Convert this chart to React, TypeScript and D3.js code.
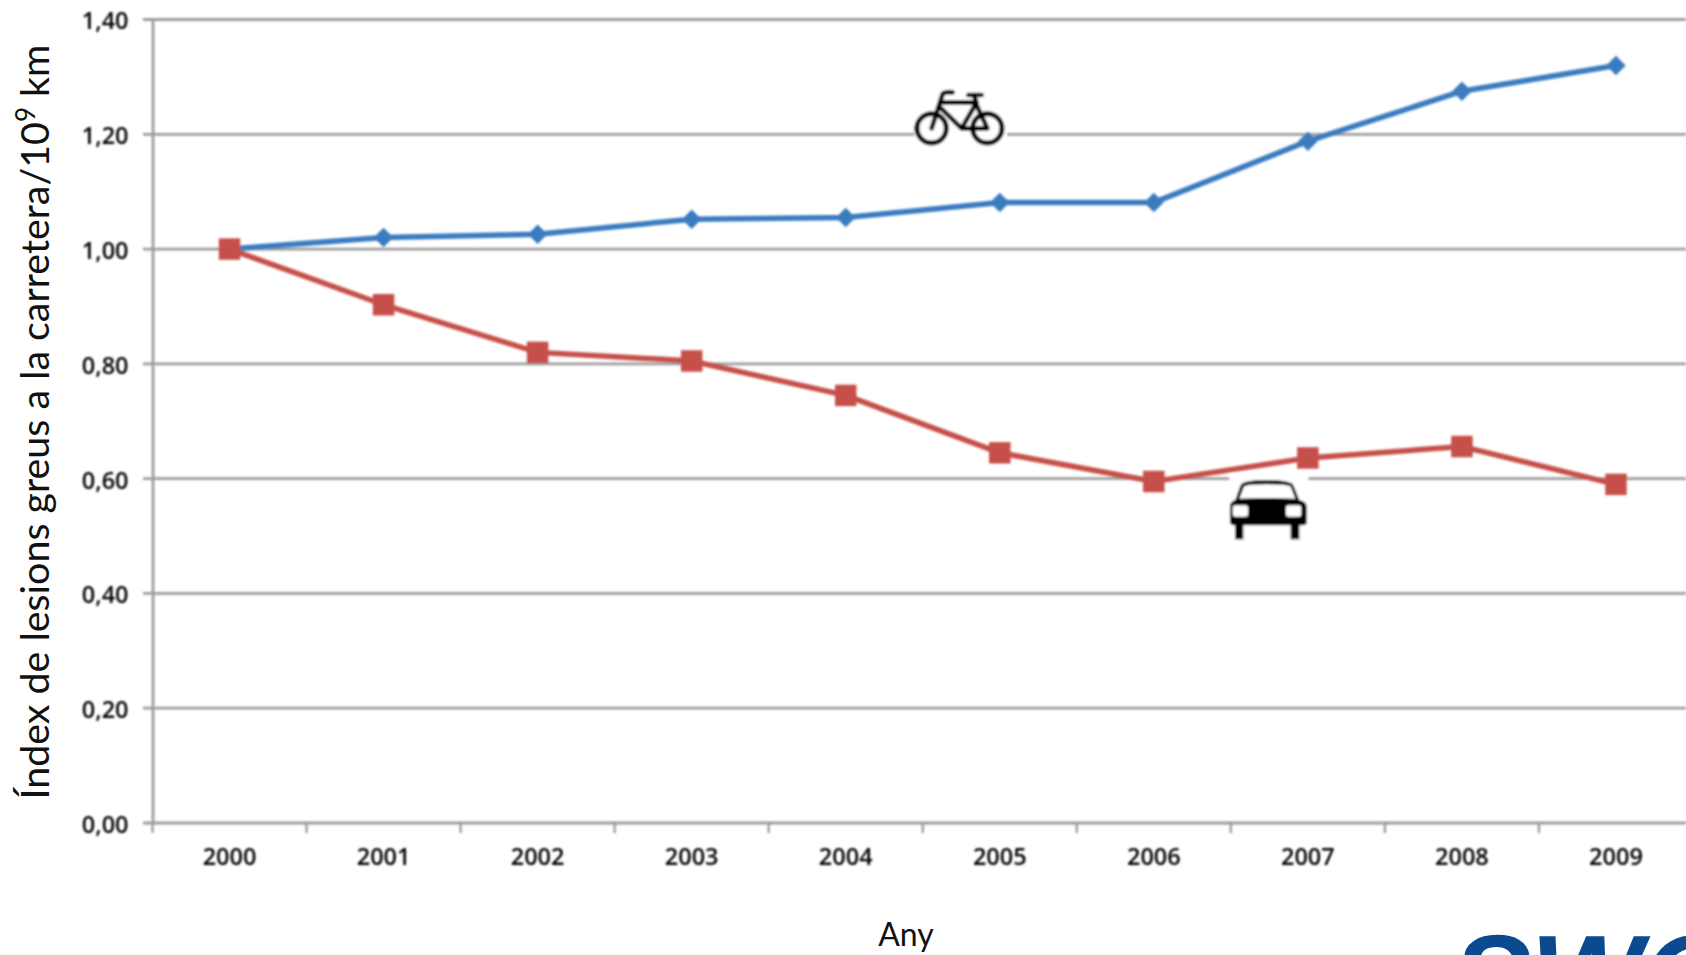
import * as d3 from "d3";
import { useEffect, useRef } from "react";

const years = ["2000", "2001", "2002", "2003", "2004", "2005", "2006", "2007", "2008", "2009"];
const bikeValues = [1.0, 1.02, 1.026, 1.052, 1.055, 1.081, 1.081, 1.188, 1.275, 1.32];
const carValues = [1.0, 0.903, 0.82, 0.805, 0.745, 0.645, 0.595, 0.636, 0.656, 0.59];
const yTicks = [0, 0.2, 0.4, 0.6, 0.8, 1.0, 1.2, 1.4];

const WIDTH = 1686;
const HEIGHT = 955;
const GRID = "#9c9c9c";
const BLUE = "#3a7cc0";
const RED = "#c6504a";
const FONT = "'Open Sans', sans-serif";
const TITLE_FONT = "Lato, sans-serif";

const x = d3.scaleBand().domain(years).range([152.5, 1693]);
const y = d3.scaleLinear().domain([0, 1.4]).range([823, 19.5]);
const cx = (d: string) => (x(d) ?? 0) + x.bandwidth() / 2;

function Bike() {
  // drawn in the 3x crop space of the icon
  return (
    <g transform="translate(850,60) scale(0.3333)" fill="none" stroke="#000" strokeLinecap="round" strokeLinejoin="round">
      <rect x="193" y="75" width="278" height="190" fill="#fff" stroke="none" />
      <circle cx="245" cy="205" r="44" strokeWidth="15" />
      <circle cx="412" cy="205" r="44" strokeWidth="15" />
      <path d="M245 205 L278 102 Q284 95 308 97" strokeWidth="14" />
      <path d="M272 127 L380 127 L335 205 L268 140" strokeWidth="14" />
      <path d="M335 205 L412 205 L375 125 M378 125 L372 105 M355 105 L395 105" strokeWidth="14" />
    </g>
  );
}

function Car() {
  return (
    <g transform="translate(1180,440) scale(0.3333)">
      <rect x="148" y="100" width="237" height="200" fill="#fff" />
      <path
        d="M150 200 Q150 185 166 180 L182 135 Q190 120 260 120 Q330 120 340 135 L358 180 Q380 185 380 200 L380 248 Q380 256 362 256 L358 256 L358 298 L332 298 L332 256 L190 256 L190 298 L165 298 L165 256 Q150 256 150 246 Z"
        fill="#000"
      />
      <path d="M178 176 L192 140 Q200 133 260 133 Q322 133 332 140 L346 176 Q260 172 178 176 Z" fill="#fff" />
      <rect x="158" y="196" width="46" height="34" rx="8" fill="#fff" />
      <rect x="318" y="196" width="46" height="34" rx="8" fill="#fff" />
    </g>
  );
}

export default function App() {
  const axesRef = useRef<SVGGElement>(null);
  const seriesRef = useRef<SVGGElement>(null);

  useEffect(() => {
    if (!axesRef.current) return;
    const g = d3.select(axesRef.current);
    g.selectAll("*").remove();

    // gridlines
    g.append("g")
      .selectAll("line")
      .data(yTicks)
      .join("line")
      .attr("x1", 143)
      .attr("x2", WIDTH)
      .attr("y1", (d) => y(d))
      .attr("y2", (d) => y(d))
      .attr("stroke", GRID)
      .attr("stroke-width", 2.8);

    // y axis
    const yAxis = g
      .append("g")
      .attr("transform", "translate(152.5,0)")
      .call(
        d3
          .axisLeft(y)
          .tickValues(yTicks)
          .tickSize(0)
          .tickPadding(24)
          .tickFormat((d) => (d as number).toFixed(2).replace(".", ","))
      );
    yAxis.select(".domain").attr("stroke", GRID).attr("stroke-width", 2.8);
    yAxis
      .selectAll("text")
      .attr("dy", "0.4em")
      .style("font-family", FONT)
      .style("font-size", "23.5px")
      .style("font-weight", "600")
      .style("fill", "#000");

    // x axis, ticks sit on the band edges
    const xAxis = g
      .append("g")
      .attr("transform", "translate(0,823)")
      .call(d3.axisBottom(x).tickSize(0).tickPadding(25));
    xAxis.select(".domain").remove();
    xAxis
      .selectAll("text")
      .style("font-family", FONT)
      .style("font-size", "23.5px")
      .style("font-weight", "600")
      .style("fill", "#000");
    g.append("g")
      .selectAll("line")
      .data(years)
      .join("line")
      .attr("x1", (d) => x(d) ?? 0)
      .attr("x2", (d) => x(d) ?? 0)
      .attr("y1", 823)
      .attr("y2", 833)
      .attr("stroke", GRID)
      .attr("stroke-width", 2.4);
  }, []);

  useEffect(() => {
    if (!seriesRef.current) return;
    const g = d3.select(seriesRef.current);
    g.selectAll("*").remove();

    const line = d3
      .line<number>()
      .x((_, i) => cx(years[i]))
      .y((d) => y(d));

    g.append("path").attr("d", line(bikeValues)).attr("fill", "none").attr("stroke", BLUE).attr("stroke-width", 5.5);
    g.append("g")
      .selectAll("path")
      .data(bikeValues)
      .join("path")
      .attr("transform", (d, i) => `translate(${cx(years[i])},${y(d)}) rotate(45)`)
      .attr("d", d3.symbol(d3.symbolSquare, 190)())
      .attr("fill", BLUE);

    g.append("path").attr("d", line(carValues)).attr("fill", "none").attr("stroke", RED).attr("stroke-width", 5.5);
    g.append("g")
      .selectAll("path")
      .data(carValues)
      .join("path")
      .attr("transform", (d, i) => `translate(${cx(years[i])},${y(d)})`)
      .attr("d", d3.symbol(d3.symbolSquare, 462)())
      .attr("fill", RED);
  }, []);

  return (
    <svg
      width={WIDTH}
      height={HEIGHT}
      style={{ position: "absolute", left: 0, top: 0, display: "block", background: "#fff" }}
    >
      <defs>
        <filter id="soft" x="-2%" y="-2%" width="104%" height="104%">
          <feGaussianBlur stdDeviation="0.8" />
        </filter>
      </defs>
      <g filter="url(#soft)">
        <g ref={axesRef} />
        <Bike />
        <Car />
        <g ref={seriesRef} />
      </g>
      <text
        transform="translate(49,422) rotate(-90)"
        textAnchor="middle"
        fontFamily={TITLE_FONT}
        fontSize="39.4"
        fill="#111"
      >
        Índex de lesions greus a la carretera/10
        <tspan fontSize="26" dy="-14">9</tspan>
        <tspan dy="14"> km</tspan>
      </text>
      <text x="906" y="946" textAnchor="middle" fontFamily={TITLE_FONT} fontSize="32" fill="#111">
        Any
      </text>
      <text
        x="1452"
        y="1018"
        fontFamily="'Liberation Sans', sans-serif"
        fontWeight="700"
        fontStyle="italic"
        fontSize="118"
        fill="#0b4a8f"
      >
        SWOV
      </text>
    </svg>
  );
}
